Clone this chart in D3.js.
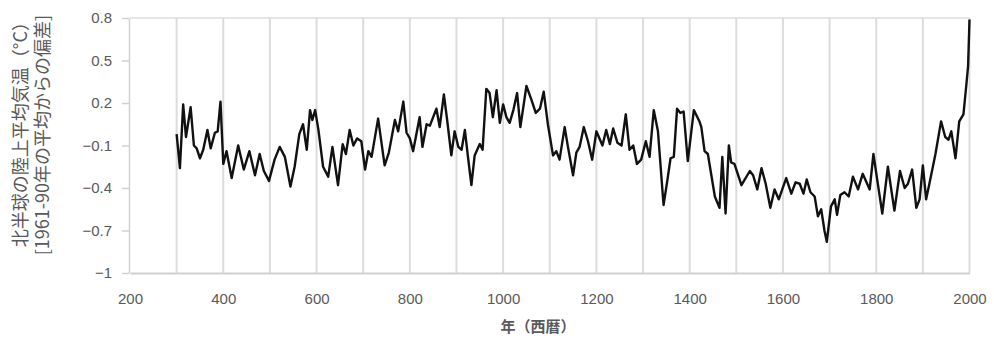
<!DOCTYPE html>
<html lang="ja">
	<head>
		<meta charset="utf-8">
		<title>北半球の陸上平均気温</title>
		<script src="https://d3js.org/d3.v7.min.js"></script>
		<style type="text/css">
		body { margin: 0; background: #fff; }
		text { font-family: "Liberation Sans", "Noto Sans CJK JP", sans-serif; fill: #595959; }
		.jp { font-family: "Noto Sans CJK JP", sans-serif; }
		</style>
	</head>
	<body>
		<script type="text/javascript">

		// data (year, anomaly vs 1961-90 mean)
		var years = [300, 307, 314, 320, 330, 337, 343, 350, 357, 366, 373, 382, 388, 394,
			400, 407, 418, 432, 444, 456, 468, 478, 487, 498,
			510, 521, 532, 544, 553, 563, 571, 579, 586, 591, 597,
			604, 614, 625, 634, 646, 656, 663, 671, 679, 687, 696,
			704, 711, 718, 732, 746, 755, 768, 775, 786, 793,
			800, 807, 821, 827, 836, 843, 850, 857, 864, 873, 880, 889, 896,
			904, 911, 918, 925, 932, 939, 950, 956, 964, 971, 978, 986, 993,
			1000, 1007, 1014, 1022, 1030, 1037, 1050, 1061, 1070, 1079, 1087, 1096,
			1107, 1114, 1121, 1132, 1139, 1150, 1157, 1164, 1173, 1182, 1191,
			1200, 1213, 1221, 1229, 1236, 1245, 1254, 1263, 1271, 1279, 1287, 1296,
			1306, 1314, 1323, 1332, 1344, 1352, 1359, 1366, 1373, 1380, 1387, 1396,
			1409, 1421, 1425, 1432, 1439, 1454, 1464, 1470, 1477, 1484, 1489, 1496,
			1511, 1529, 1536, 1545, 1554, 1563, 1573, 1582, 1591,
			1607, 1618, 1627, 1636, 1644, 1651, 1659, 1668, 1675, 1682, 1689, 1694,
			1703, 1711, 1716, 1723, 1732, 1741, 1750, 1761, 1771, 1786, 1794,
			1803, 1813, 1825, 1839, 1851, 1861, 1868, 1877, 1886, 1893,
			1900, 1907, 1914, 1927, 1939, 1948, 1955, 1961, 1970, 1978, 1987, 1993, 1997, 2000];
		var anomaly = [-0.02, -0.26, 0.19, -0.04, 0.17, -0.10, -0.12, -0.19, -0.13, 0.01, -0.12, -0.01, 0.00, 0.21,
			-0.23, -0.14, -0.33, -0.10, -0.27, -0.14, -0.31, -0.16, -0.28, -0.35,
			-0.20, -0.11, -0.18, -0.39, -0.25, -0.02, 0.05, -0.13, 0.15, 0.08, 0.15,
			0.01, -0.25, -0.32, -0.11, -0.38, -0.09, -0.16, 0.01, -0.10, -0.05, -0.07,
			-0.27, -0.14, -0.18, 0.09, -0.24, -0.15, 0.08, 0.00, 0.21, -0.01,
			-0.05, -0.14, 0.10, -0.11, 0.05, 0.04, 0.10, 0.16, 0.03, 0.26, 0.08, -0.17, 0.00,
			-0.11, -0.13, 0.01, -0.19, -0.38, -0.17, -0.09, -0.13, 0.30, 0.27, 0.10, 0.29, 0.06,
			0.19, 0.10, 0.06, 0.15, 0.27, 0.03, 0.32, 0.22, 0.13, 0.16, 0.28, 0.05,
			-0.17, -0.14, -0.20, 0.03, -0.11, -0.31, -0.15, -0.11, 0.03, -0.07, -0.20,
			0.00, -0.10, 0.01, -0.09, 0.02, -0.08, -0.10, 0.12, -0.13, -0.10, -0.23, -0.20,
			-0.07, -0.18, 0.15, 0.00, -0.52, -0.35, -0.19, -0.18, 0.16, 0.13, 0.14, -0.21,
			0.15, 0.07, 0.03, -0.14, -0.16, -0.46, -0.54, -0.18, -0.58, -0.10, -0.22, -0.23,
			-0.38, -0.28, -0.31, -0.41, -0.26, -0.37, -0.54, -0.41, -0.48,
			-0.33, -0.44, -0.36, -0.37, -0.44, -0.34, -0.43, -0.46, -0.60, -0.55, -0.70, -0.78,
			-0.53, -0.48, -0.59, -0.45, -0.43, -0.46, -0.32, -0.41, -0.30, -0.41, -0.16,
			-0.36, -0.58, -0.25, -0.56, -0.28, -0.40, -0.37, -0.27, -0.54, -0.48,
			-0.24, -0.48, -0.37, -0.16, 0.07, -0.04, -0.06, 0.00, -0.19, 0.07, 0.12, 0.32, 0.46, 0.79];

		var xTicks = [200, 400, 600, 800, 1000, 1200, 1400, 1600, 1800, 2000];
		var yTicks = [-1, -0.7, -0.4, -0.1, 0.2, 0.5, 0.8];
		var gridYears = d3.range(300, 2001, 100);

		var w = 994;
		var h = 339;

		var x = d3.scaleLinear().domain([200, 2000]).range([130, 969.5]);
		var y = d3.scaleLinear().domain([-1, 0.8]).range([273, 18]);

		var svg = d3.select("body")
			.append("svg")
			.attr("width", w)
			.attr("height", h);

		// vertical gridlines
		svg.selectAll("line.grid")
			.data(gridYears)
			.enter()
			.append("line")
			.attr("class", "grid")
			.attr("x1", function(d) { return x(d); })
			.attr("x2", function(d) { return x(d); })
			.attr("y1", y(0.8))
			.attr("y2", y(-1))
			.attr("stroke", "#dcdcdc")
			.attr("stroke-width", 2);

		// top frame line
		svg.append("line")
			.attr("x1", x(200)).attr("x2", x(2000))
			.attr("y1", y(0.8)).attr("y2", y(0.8))
			.attr("stroke", "#dcdcdc")
			.attr("stroke-width", 1.5);

		// x axis
		var xAxis = svg.append("g")
			.attr("transform", "translate(0," + y(-1) + ")")
			.call(d3.axisBottom(x).tickValues(xTicks).tickSize(0).tickPadding(20).tickFormat(d3.format("d")));
		xAxis.select(".domain").attr("stroke", "#d0d0d0").attr("stroke-width", 2);
		xAxis.selectAll("text").attr("font-size", 15).attr("fill", "#595959");

		// y axis
		var yAxis = svg.append("g")
			.attr("transform", "translate(" + (x(200) - 1) + ",0)")
			.call(d3.axisLeft(y).tickValues(yTicks).tickSize(7).tickPadding(10).tickSizeOuter(0)
				.tickFormat(function(d) { return d3.format("")(+d.toFixed(1)); }));
		yAxis.select(".domain").attr("stroke", "#d0d0d0").attr("stroke-width", 1.5);
		yAxis.selectAll(".tick line").attr("stroke", "#d0d0d0").attr("stroke-width", 1.5);
		yAxis.selectAll("text").attr("font-size", 15).attr("fill", "#595959");

		// the series
		var line = d3.line()
			.x(function(d, i) { return x(years[i]); })
			.y(function(d) { return y(d); });

		svg.append("path")
			.datum(anomaly)
			.attr("fill", "none")
			.attr("stroke", "#111")
			.attr("stroke-width", 2.4)
			.attr("stroke-linejoin", "round")
			.attr("d", line);

		// axis titles
		svg.append("text")
			.attr("class", "jp")
			.attr("x", 538)
			.attr("y", 332)
			.attr("text-anchor", "middle")
			.attr("font-size", 15)
			.attr("font-weight", "bold")
			.text("年（西暦）");

		var yt = svg.append("text")
			.attr("class", "jp")
			.attr("transform", "rotate(-90)")
			.attr("text-anchor", "end")
			.attr("font-size", 18);
		yt.append("tspan").attr("x", -13).attr("y", 27).text("北半球の陸上平均気温（°C）");
		yt.append("tspan").attr("x", -15).attr("y", 49).text("[1961-90年の平均からの偏差]");

		</script>
	</body>
</html>
